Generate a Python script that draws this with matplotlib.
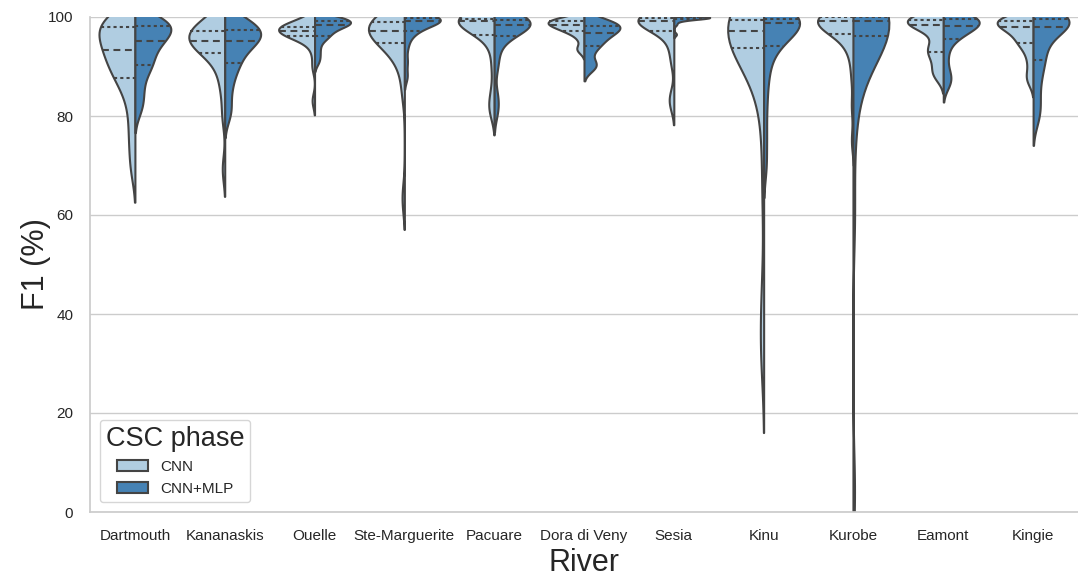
import numpy as np
import pandas as pd
import matplotlib
matplotlib.use("Agg")
import matplotlib.pyplot as plt
import seaborn as sns

rivers = ["Dartmouth", "Kananaskis", "Ouelle", "Ste-Marguerite", "Pacuare",
          "Dora di Veny", "Sesia", "Kinu", "Kurobe", "Eamont", "Kingie"]
phases = ["CNN", "CNN+MLP"]

# F1 (%) samples
dartmouth_cnn = [69.3, 74, 78, 82, 85, 87, 88, 89, 90, 91, 92, 93, 93.5, 94, 95, 96, 97, 98, 98.3, 98.6, 99, 99.3, 99.6, 100]
dartmouth_mlp = [81, 83, 85, 87, 89, 90, 90.5, 91.5, 92.5, 93.5, 94.5, 95, 95.5, 96, 96.5, 97, 97.5, 98, 98.5, 98.7, 99, 99.2, 99.5, 99.8]
kananaskis_cnn = [69.3, 80, 85, 88, 90, 92, 93, 93.5, 94, 94.5, 94.8, 95, 95.2, 95.5, 96, 96.3, 96.7, 97, 97.5, 98, 98.5, 99, 99.5, 100]
kananaskis_mlp = [80, 82, 85, 87, 89, 90, 91, 92, 93, 94, 94.5, 95, 95.3, 95.7, 96, 96.5, 97, 97.2, 97.5, 98, 98.5, 99, 99.5, 100]
ouelle_cnn = [83.1, 90, 93, 95, 95.8, 96, 96.3, 96.6, 96.8, 97, 97.1, 97.2, 97.3, 97.5, 97.7, 97.9, 98.1, 98.3, 98.5, 98.7, 99, 99.3]
ouelle_mlp = [91, 92.5, 94, 95.5, 96, 96.3, 97, 97.5, 98, 98.2, 98.4, 98.6, 98.8, 99, 99.2, 99.3, 99.5, 99.6, 99.8, 100]
stemarg_cnn = [63.4, 85, 90, 92, 93.5, 94.5, 95.2, 95.8, 96.3, 96.8, 97, 97.2, 97.4, 97.8, 98.2, 98.6, 99, 99.3, 99.5, 99.7, 99.9, 100]
stemarg_mlp = [88, 91, 94, 96, 97, 97.3, 98, 98.6, 99, 99.2, 99.3, 99.4, 99.5, 99.6, 99.7, 99.8, 99.9, 100, 100, 100]
pacuare_cnn = [81, 82, 85, 90, 94, 96, 97.5, 98.2, 98.5, 98.8, 99, 99.2, 99.3, 99.4, 99.5, 99.6, 99.7, 99.8, 99.9, 100, 100, 100]
pacuare_mlp = [81, 84, 90, 93, 95.5, 96.5, 97.2, 97.6, 98, 98.2, 98.4, 98.6, 98.9, 99.1, 99.3, 99.5, 99.7, 99.9, 100, 100]
dora_cnn = [93.1, 94, 95.5, 96.5, 97, 97.3, 97.7, 98, 98.2, 98.4, 98.6, 98.8, 99, 99.2, 99.4, 99.6, 99.8, 100]
dora_mlp = [89.6, 90.2, 91, 93, 94, 94.8, 95.3, 96, 96.6, 97, 97.3, 97.6, 98, 98.3, 98.5, 98.8, 99.2, 99.6]
sesia_cnn = [82.4, 84, 91, 94, 96, 97.5, 98.2, 98.5, 98.9, 99.1, 99.3, 99.4, 99.5, 99.7, 99.8, 99.9, 100, 100, 100, 100]
sesia_mlp = [96.5, 98.5, 99.2, 99.5, 99.6, 99.7, 99.8, 99.85, 99.9, 99.95, 100, 100, 100, 100, 100, 100, 100, 100]
kinu_cnn = [31, 36, 45, 65, 78, 85, 90, 93, 94, 94.5, 95, 95.5, 96, 96.3, 96.6, 97, 97.3, 97.6, 98, 98.3, 98.6, 99, 99.2, 99.4, 99.5, 99.6, 99.7, 99.8, 99.9, 100, 100, 100]
kinu_mlp = [70, 76, 82, 87, 90, 93, 94.5, 95.2, 96, 97, 97.8, 98.5, 99, 99.2, 99.3, 99.4, 99.5, 99.6, 99.7, 99.8, 99.9, 100, 100, 100]
kurobe_cnn = [75, 82, 88, 92, 94, 95.5, 96.5, 97.2, 97.6, 98, 98.4, 98.8, 99.1, 99.3, 99.5, 99.6, 99.7, 99.8, 99.9, 100, 100, 100, 100, 100, 100]
kurobe_mlp = [4, 60, 78, 85, 90, 93, 95, 96.5, 97.5, 98, 98.3, 98.6, 98.9, 99.1, 99.3, 99.5, 99.6, 99.7, 99.8, 99.9, 100, 100, 100, 100, 100, 100, 100, 100]
eamont_cnn = [87.9, 88.5, 89.5, 91, 92.5, 93, 93.5, 94, 95.5, 97, 98.3, 98.4, 98.6, 98.8, 99, 99.3, 99.5, 99.7, 99.8, 100, 100]
eamont_mlp = [86.3, 87.5, 89, 92, 94.5, 96, 96.5, 97, 97.5, 98, 98.3, 98.6, 99, 99.3, 99.5, 99.7, 99.9, 100, 100, 100]
kingie_cnn = [87, 88.5, 91, 93, 94.5, 95, 95.5, 96.5, 97.3, 98, 98.3, 98.5, 98.8, 99, 99.3, 99.5, 99.7, 99.9, 100]
kingie_mlp = [79.3, 81.5, 84, 87, 89, 91, 92, 93.5, 95, 96.5, 97.5, 98.3, 98.6, 99, 99.3, 99.5, 99.6, 99.7, 99.8, 100, 100, 100]

samples = {
    "Dartmouth": (dartmouth_cnn, dartmouth_mlp),
    "Kananaskis": (kananaskis_cnn, kananaskis_mlp),
    "Ouelle": (ouelle_cnn, ouelle_mlp),
    "Ste-Marguerite": (stemarg_cnn, stemarg_mlp),
    "Pacuare": (pacuare_cnn, pacuare_mlp),
    "Dora di Veny": (dora_cnn, dora_mlp),
    "Sesia": (sesia_cnn, sesia_mlp),
    "Kinu": (kinu_cnn, kinu_mlp),
    "Kurobe": (kurobe_cnn, kurobe_mlp),
    "Eamont": (eamont_cnn, eamont_mlp),
    "Kingie": (kingie_cnn, kingie_mlp),
}

rows = []
for r in rivers:
    for ph, vals in zip(phases, samples[r]):
        for v in vals:
            rows.append((r, ph, v))
df = pd.DataFrame(rows, columns=["River", "CSC phase", "F1"])

sns.set_theme(style="whitegrid")
plt.rcParams['font.family'] = ['Liberation Sans', 'DejaVu Sans']

colors = ["#b0cde1", "#4682b4"]

fig = plt.figure(figsize=(10.78, 5.77), dpi=100)
ax = fig.add_axes([90 / 1078, 65 / 577, 988 / 1078, 495 / 577])

n_before = len(ax.lines)
sns.violinplot(data=df, x="River", y="F1", hue="CSC phase", order=rivers,
               hue_order=phases, split=True, inner="quart", cut=2,
               bw_method=0.4, density_norm="width", palette=colors,
               linewidth=1.5, linecolor="#444444", saturation=1, ax=ax)

# restyle quartile lines: groups of (q25, median, q75)
inner = ax.lines[n_before:]
for i, ln in enumerate(inner):
    ln.set_linewidth(1.5)
    ln.set_color("#444444")
    if i % 3 == 1:
        ln.set_dashes((3.3, 2.2))
    else:
        ln.set_dashes((1.5, 1.5))

ax.set_ylim(0, 100)
ax.set_xlim(-0.5, len(rivers) - 0.5)
ax.set_yticks([0, 20, 40, 60, 80, 100])
ax.tick_params(axis="both", labelsize=11, colors="#262626", pad=6)
ax.set_ylabel("F1 (%)", fontsize=22, labelpad=-2)
ax.set_xlabel("River", fontsize=22, labelpad=4)
ax.grid(axis="x", visible=False)
ax.grid(axis="y", color="#cccccc", linewidth=1.0)
for s in ["top", "right"]:
    ax.spines[s].set_visible(False)
for s in ["left", "bottom"]:
    ax.spines[s].set_color("#cccccc")

handles, labels = ax.get_legend_handles_labels()
leg = ax.legend(handles, labels, title="CSC phase", loc="lower left",
                fontsize=11, title_fontsize=19.5, frameon=True,
                bbox_to_anchor=(0.002, 0.005))
leg.get_frame().set_edgecolor("#cccccc")

fig.savefig("out.png", dpi=100)
